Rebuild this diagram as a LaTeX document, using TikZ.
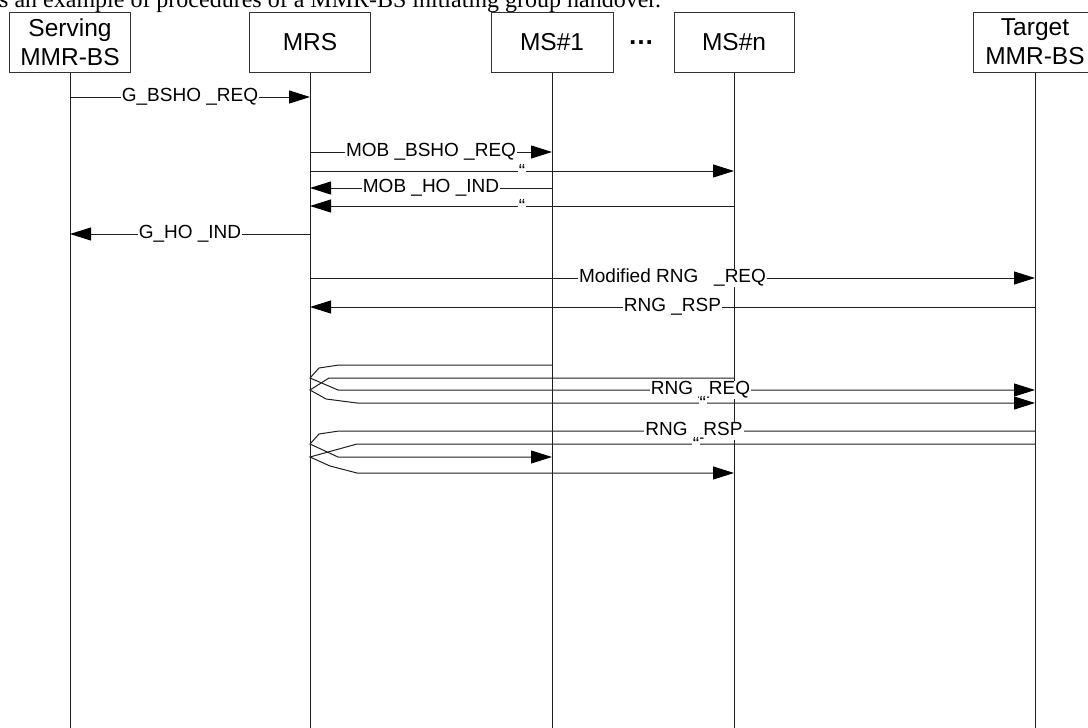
\documentclass[tikz,border=0pt]{standalone}
\usepackage{fontspec}
\setmainfont{Liberation Sans}
\newfontfamily\captionserif{Liberation Serif}
\usetikzlibrary{arrows.meta,calc}
\definecolor{linegray}{gray}{0.12}
\definecolor{boxline}{gray}{0.2}

\begin{document}
\begin{tikzpicture}[x=1pt, y=-1pt,
  entity/.style={draw=boxline, line width=1pt, fill=white, align=center,
    minimum width=121pt, minimum height=60pt, inner sep=0pt,
    font=\fontsize{24.5}{29}\selectfont},
  life/.style={draw=linegray, line width=1pt},
  msg/.style={draw=linegray, line width=1pt},
  arr/.style={msg, -{Triangle[length=21pt, width=13pt, color=black]}},
  lbl/.style={fill=white, inner xsep=1pt, inner ysep=0pt, font=\fontsize{19}{21}\selectfont},
  ditto/.style={fill=white, inner sep=1pt, font=\fontsize{19}{21}\selectfont}
]
\useasboundingbox (0,0) rectangle (1088,728);

\node[anchor=base west, inner sep=0pt, font=\captionserif\fontsize{24}{28}\selectfont] (cap) at (-1,7)
  {s an example of procedures of a MMR-BS initiating group handover.};

\node[entity] (srv) at (70,42) {Serving\\MMR-BS};
\node[entity] (mrs) at (310,42) {MRS};
\node[entity, minimum width=122pt] (ms1) at (552,42) {MS\#1};
\node[entity, minimum width=120pt] (ms2) at (734,42) {MS\#n};
\node[entity, minimum width=124pt] (tgt) at (1035,42) {Target\\MMR-BS};
\node[font=\bfseries\fontsize{26}{28}\selectfont, inner sep=0pt] (dots) at (641,43) {…};

\foreach \n in {srv,mrs,ms1,ms2,tgt}
  \draw[life] (\n.south) -- (\n.south |- 0,730);

\draw[arr] (srv |- 0,97) -- node[lbl] {G\_BSHO \_REQ\ } (mrs |- 0,97);
\draw[arr] (mrs |- 0,152) -- node[lbl] {MOB \_BSHO \_REQ} (ms1 |- 0,152);
\draw[arr] (mrs |- 0,171) -- node[ditto] {“} (ms2 |- 0,171);
\draw[arr] (ms1 |- 0,188) -- node[lbl] {MOB \_HO \_IND} (mrs |- 0,188);
\draw[arr] (ms2 |- 0,206) -- node[ditto] {“} (mrs |- 0,206);
\draw[arr] (mrs |- 0,234) -- node[lbl] {G\_HO \_IND\ } (srv |- 0,234);

\draw[arr] (mrs |- 0,278) -- node[lbl] {Modified RNG~~~\_REQ\ } (tgt |- 0,278);
\draw[arr] (tgt |- 0,307) -- node[lbl] {RNG \_RSP\ } (mrs |- 0,307);

\coordinate (ja) at (mrs |- 0,378);
\coordinate (jb) at (mrs |- 0,390);
\draw[arr] (ms1 |- 0,365) -- (339,365) -- (319,368) -- (ja) -- (338,390)
  -- node[lbl, pos=0.52] {RNG \_REQ\ } (tgt |- 0,390);
\draw[arr] (ms2 |- 0,378) -- (329,378) -- (jb) -- (326,399) -- (357,403)
  -- node[ditto, pos=0.51] {“} (tgt |- 0,403);

\coordinate (jc) at (mrs |- 0,444);
\coordinate (jd) at (mrs |- 0,457);
\draw[arr] (tgt |- 0,431) -- node[lbl, pos=0.49] {RNG \_RSP} (339,431) -- (319,434)
  -- (jc) -- (338,457) -- (ms1 |- 0,457);
\draw[arr] (tgt |- 0,444) -- node[ditto, pos=0.5] {“} (357,444) -- (jd)
  -- (330,466) -- (357,473) -- (ms2 |- 0,473);
\end{tikzpicture}
\end{document}
